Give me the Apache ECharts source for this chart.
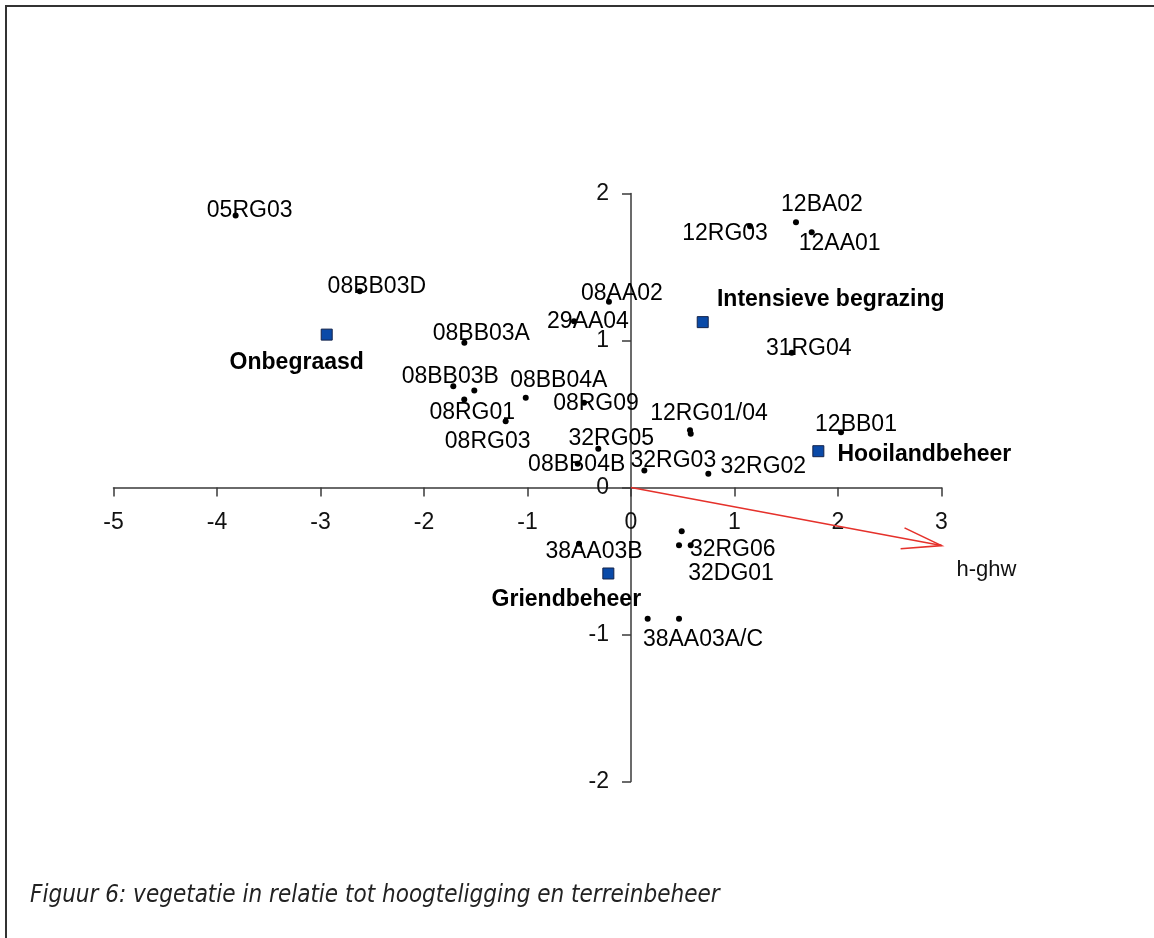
<!DOCTYPE html>
<html>
<head>
<meta charset="utf-8">
<script src="https://cdn.jsdelivr.net/npm/echarts@6/dist/echarts.min.js"></script>
<style>
html,body{margin:0;padding:0;background:#fff;}
#chart{width:1154px;height:938px;}
</style>
</head>
<body>
<div id="chart"></div>
<script>
// ---- data ----
const siteLabels = ['05RG03','08BB03D','08BB03A','08BB03B','','08RG01','08BB04A','08RG03','08RG09','32RG05','08BB04B','32RG03','32RG02','12RG01/04','','12BB01','12RG03','12BA02','12AA01','08AA02','29AA04','31RG04','38AA03B','','32DG01','32RG06','','38AA03A/C'];
const siteX = [-3.82,-2.62,-1.61,-1.717,-1.514,-1.611,-1.017,-1.211,-0.454,-0.316,-0.515,0.129,0.747,0.570,0.577,2.029,1.15,1.594,1.746,-0.213,-0.551,1.553,-0.502,0.490,0.464,0.577,0.161,0.464];
const siteY = [1.85,1.335,0.984,0.689,0.660,0.599,0.610,0.451,0.576,0.263,0.161,0.116,0.093,0.390,0.365,0.376,1.778,1.805,1.737,1.263,1.131,0.916,-0.383,-0.297,-0.393,-0.393,-0.893,-0.893];

const groupNames = ['Onbegraasd','Intensieve begrazing','Hooilandbeheer','Griendbeheer'];
const groupX = [-2.94,0.693,1.81,-0.219];
const groupY = [1.04,1.125,0.247,-0.585];

const arrowName = 'h-ghw';
const arrowFrom = [0,0];
const arrowTo = [3.0,-0.395];

const xMin = -5, xMax = 3, yMin = -2, yMax = 2;

const caption = 'Figuur 6: vegetatie in relatie tot hoogteligging en terreinbeheer';

// ---- label placement (style only) ----
const siteLabelOffset = {
  '05RG03':[14,-5],'08BB03D':[17,-5],'08BB03A':[17,-9],'08BB03B':[-3,-10],'08RG01':[8,13],
  '08BB04A':[33,-17],'08RG03':[-18,20],'08RG09':[12,1],'32RG05':[13,-10],'08BB04B':[-1,1],
  '32RG03':[29,-10],'32RG02':[55,-7],'12RG01/04':[19,-17],'12BB01':[15,-8],'12RG03':[-25,8],
  '12BA02':[26,-18],'12AA01':[28,11],'08AA02':[13,-8],'29AA04':[14,0],'31RG04':[17,-4],
  '38AA03B':[15,8],'32DG01':[52,28],'32RG06':[42,4],'38AA03A/C':[24,21]
};
const groupLabelOffset = {
  'Onbegraasd':[-30,28],'Intensieve begrazing':[128,-22],'Hooilandbeheer':[106,3],'Griendbeheer':[-42,26]
};

const FONT = 'Liberation Sans, Arial, sans-serif';
const FS = 23;

// grid geometry (layout)
const G = {left:113.5, top:193.5, width:828, height:588};
// shift axes so that they cross at the origin
const yAxisShift = -G.width * (0 - xMin) / (xMax - xMin);
const xAxisShift = -G.height * (0 - yMin) / (yMax - yMin);

const siteData = siteLabels.map((n,i)=>({
  name:n, value:[siteX[i],siteY[i]],
  label:{show:n!=='', offset: siteLabelOffset[n] || [0,0]}
}));
const groupData = groupNames.map((n,i)=>({
  name:n, value:[groupX[i],groupY[i]],
  label:{offset: groupLabelOffset[n]}
}));

const chart = echarts.init(document.getElementById('chart'), null, {renderer:'canvas'});
chart.setOption({
  backgroundColor:'#ffffff',
  animation:false,
  title:{
    text:caption, left:25, top:879,
    textStyle:{fontFamily:'Liberation Sans Narrow, DejaVu Sans Condensed, Liberation Sans, sans-serif', fontStyle:'italic', fontWeight:'normal', fontSize:24, color:'#222'}
  },
  graphic:[{
    type:'polyline', silent:true,
    shape:{points:[[6,960],[6,6],[1170,6]]},
    style:{stroke:'#333',lineWidth:2,fill:null}
  }],
  grid:{left:G.left, top:G.top, width:G.width, height:G.height, containLabel:false},
  xAxis:{
    type:'value', min:xMin, max:xMax, interval:1, position:'bottom', offset:xAxisShift,
    axisLine:{onZero:false, lineStyle:{color:'#3a3a3a', width:1.5}},
    axisTick:{show:true, inside:false, length:9, lineStyle:{color:'#3a3a3a', width:1.5}},
    axisLabel:{margin:24, fontFamily:FONT, fontSize:FS, color:'#111'},
    splitLine:{show:false}
  },
  yAxis:{
    type:'value', min:yMin, max:yMax, interval:1, position:'left', offset:yAxisShift,
    axisLine:{onZero:false, lineStyle:{color:'#3a3a3a', width:1.5}},
    axisTick:{show:true, inside:false, length:9, lineStyle:{color:'#3a3a3a', width:1.5}},
    axisLabel:{margin:22, fontFamily:FONT, fontSize:FS, color:'#111'},
    splitLine:{show:false}
  },
  series:[
    {
      type:'custom', name:arrowName, coordinateSystem:'cartesian2d', clip:false, silent:true, z:3,
      data:[[arrowFrom[0],arrowFrom[1],arrowTo[0],arrowTo[1]]],
      encode:{x:[0,2], y:[1,3]},
      renderItem:function(params, api){
        const p0 = api.coord([api.value(0), api.value(1)]);
        const p1 = api.coord([api.value(2), api.value(3)]);
        const ang = Math.atan2(p0[1]-p1[1], p0[0]-p1[0]);
        const L = 41, da = 15*Math.PI/180;
        const b1 = [p1[0]+L*Math.cos(ang+da), p1[1]+L*Math.sin(ang+da)];
        const b2 = [p1[0]+L*Math.cos(ang-da), p1[1]+L*Math.sin(ang-da)];
        return {type:'group', children:[
          {type:'line', shape:{x1:p0[0],y1:p0[1],x2:p1[0],y2:p1[1]}, style:{stroke:'#e5312b', lineWidth:1.6}},
          {type:'polyline', shape:{points:[b1,p1,b2]}, style:{stroke:'#e5312b', lineWidth:1.6, fill:null}},
          {type:'text', x:p1[0]+45, y:p1[1]+24, style:{text:arrowName, fontFamily:FONT, fontSize:22, fill:'#111', align:'center', verticalAlign:'middle'}}
        ]};
      }
    },
    {
      type:'scatter', name:'sites', symbol:'circle', symbolSize:6, z:4,
      itemStyle:{color:'#000', opacity:1},
      label:{show:true, position:'inside', formatter:'{b}', fontFamily:FONT, fontSize:FS, color:'#000', opacity:1, align:'center', verticalAlign:'middle'},
      data:siteData
    },
    {
      type:'scatter', name:'beheer', symbol:'rect', symbolSize:11, z:5,
      itemStyle:{color:'#0a4aa8', borderColor:'#14234a', borderWidth:1, opacity:1},
      label:{show:true, position:'inside', formatter:'{b}', fontFamily:FONT, fontWeight:'bold', fontSize:FS, color:'#000', opacity:1, align:'center', verticalAlign:'middle'},
      data:groupData
    }
  ]
});
</script>
</body>
</html>
